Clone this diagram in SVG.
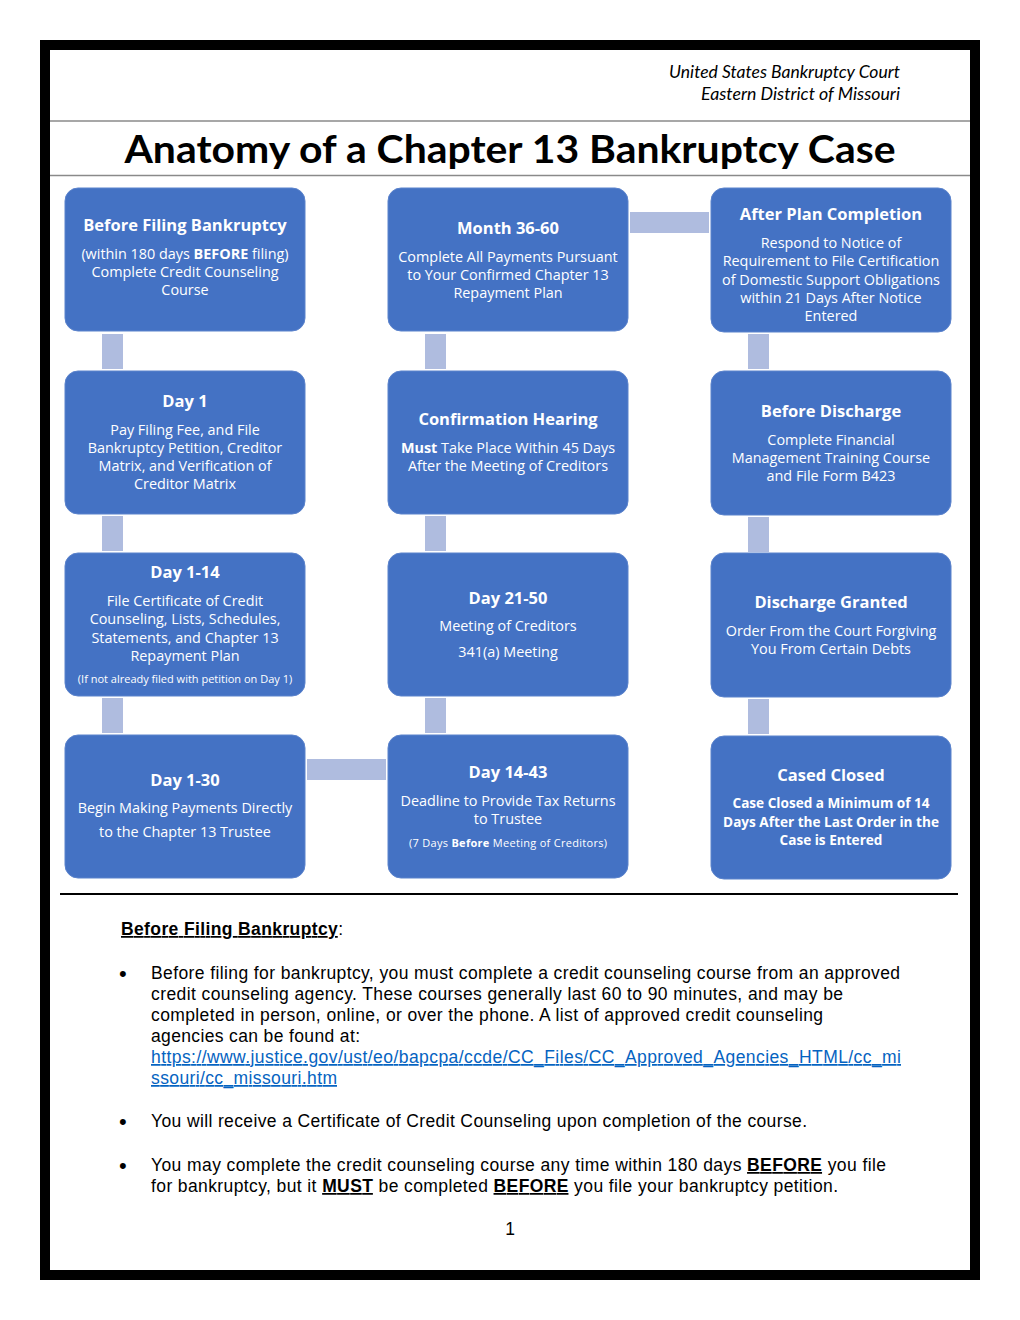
<svg xmlns="http://www.w3.org/2000/svg" width="1020" height="1320" viewBox="0 0 1020 1320">
<style>
.box{fill:#4472C4;stroke:#5B83CC;stroke-width:1}
.con{fill:#AFBCDF}
.t{font-family:"Open Sans","Noto Sans",sans-serif;font-weight:700;font-size:16.5px;fill:#fff;text-anchor:middle}
.b{font-family:"Open Sans","Noto Sans",sans-serif;font-size:14.4px;fill:#fff;text-anchor:middle}
.s{font-family:"Open Sans","Noto Sans",sans-serif;font-size:11px;fill:#fff;text-anchor:middle}
.bb{font-family:"Open Sans","Noto Sans",sans-serif;font-weight:700;font-size:13.6px;fill:#fff;text-anchor:middle}
.p{font-family:"Liberation Sans",Arial,sans-serif;font-size:17.5px;fill:#000}
.bul{font-family:"Liberation Sans",Arial,sans-serif;font-size:22px;fill:#000}
.u{text-decoration:underline;font-weight:700}
.lnk{fill:#0563C1;text-decoration:underline}
</style>
<rect width="1020" height="1320" fill="#fff"/>
<g id="frame">
<rect x="40" y="40" width="940" height="10" fill="#000"/>
<rect x="40" y="1270" width="940" height="10" fill="#000"/>
<rect x="40" y="40" width="10" height="1240" fill="#000"/>
<rect x="970" y="40" width="10" height="1240" fill="#000"/>
<line x1="50" y1="121" x2="970" y2="121" stroke="#8a8a8a" stroke-width="1.5"/>
<line x1="50" y1="175.5" x2="970" y2="175.5" stroke="#8a8a8a" stroke-width="1.5"/>
<line x1="60" y1="894" x2="958" y2="894" stroke="#000" stroke-width="2"/>
</g>
<g id="header" font-family="Lato,'Open Sans',sans-serif" font-style="italic" font-size="16.5px" text-anchor="end">
<text x="900" y="78" textLength="231" lengthAdjust="spacingAndGlyphs">United States Bankruptcy Court</text>
<text x="900" y="100" textLength="199" lengthAdjust="spacingAndGlyphs">Eastern District of Missouri</text>
</g>
<text id="title" x="510" y="163" text-anchor="middle" font-family="Lato,'Open Sans',sans-serif" font-weight="700" font-size="39px" textLength="771" lengthAdjust="spacingAndGlyphs">Anatomy of a Chapter 13 Bankruptcy Case</text>
<g id="connectors">
<rect class="con" x="102" y="334" width="21" height="35"/>
<rect class="con" x="102" y="516" width="21" height="35"/>
<rect class="con" x="102" y="698" width="21" height="35"/>
<rect class="con" x="425" y="334" width="21" height="35"/>
<rect class="con" x="425" y="516" width="21" height="35"/>
<rect class="con" x="425" y="698" width="21" height="35"/>
<rect class="con" x="748" y="334" width="21" height="35"/>
<rect class="con" x="748" y="517" width="21" height="35"/>
<rect class="con" x="748" y="699" width="21" height="35"/>
<rect class="con" x="630" y="212" width="79" height="21"/>
<rect class="con" x="307" y="759" width="79" height="21"/>
</g>
<g id="n1">
<rect class="box" x="65" y="188" width="240" height="143" rx="13"/>
<text class="t" x="185" y="231">Before Filing Bankruptcy</text>
<text class="b" x="185" y="259">(within 180 days <tspan font-weight="700">BEFORE</tspan> filing)</text>
<text class="b" x="185" y="277">Complete Credit Counseling</text>
<text class="b" x="185" y="295">Course</text>
</g>
<g id="n2">
<rect class="box" x="65" y="371" width="240" height="143" rx="13"/>
<text class="t" x="185" y="407">Day 1</text>
<text class="b" x="185" y="435">Pay Filing Fee, and File</text>
<text class="b" x="185" y="453">Bankruptcy Petition, Creditor</text>
<text class="b" x="185" y="471">Matrix, and Verification of</text>
<text class="b" x="185" y="489">Creditor Matrix</text>
</g>
<g id="n3">
<rect class="box" x="65" y="553" width="240" height="143" rx="13"/>
<text class="t" x="185" y="578">Day 1-14</text>
<text class="b" x="185" y="606">File Certificate of Credit</text>
<text class="b" x="185" y="624">Counseling, Lists, Schedules,</text>
<text class="b" x="185" y="642.5">Statements, and Chapter 13</text>
<text class="b" x="185" y="660.5">Repayment Plan</text>
<text class="s" x="185" y="683">(If not already filed with petition on Day 1)</text>
</g>
<g id="n4">
<rect class="box" x="65" y="735" width="240" height="143" rx="13"/>
<text class="t" x="185" y="786">Day 1-30</text>
<text class="b" x="185" y="813">Begin Making Payments Directly</text>
<text class="b" x="185" y="837">to the Chapter 13 Trustee</text>
</g>
<g id="n5">
<rect class="box" x="388" y="735" width="240" height="143" rx="13"/>
<text class="t" x="508" y="778">Day 14-43</text>
<text class="b" x="508" y="806">Deadline to Provide Tax Returns</text>
<text class="b" x="508" y="824">to Trustee</text>
<text class="s" x="508" y="847" textLength="198">(7 Days <tspan font-weight="700">Before</tspan> Meeting of Creditors)</text>
</g>
<g id="n6">
<rect class="box" x="388" y="553" width="240" height="143" rx="13"/>
<text class="t" x="508" y="604">Day 21-50</text>
<text class="b" x="508" y="631">Meeting of Creditors</text>
<text class="b" x="508" y="657">341(a) Meeting</text>
</g>
<g id="n7">
<rect class="box" x="388" y="371" width="240" height="143" rx="13"/>
<text class="t" x="508" y="425">Confirmation Hearing</text>
<text class="b" x="508" y="453"><tspan font-weight="700">Must</tspan> Take Place Within 45 Days</text>
<text class="b" x="508" y="471">After the Meeting of Creditors</text>
</g>
<g id="n8">
<rect class="box" x="388" y="188" width="240" height="143" rx="13"/>
<text class="t" x="508" y="234">Month 36-60</text>
<text class="b" x="508" y="262">Complete All Payments Pursuant</text>
<text class="b" x="508" y="280">to Your Confirmed Chapter 13</text>
<text class="b" x="508" y="298">Repayment Plan</text>
</g>
<g id="n9">
<rect class="box" x="711" y="188" width="240" height="144" rx="13"/>
<text class="t" x="831" y="220">After Plan Completion</text>
<text class="b" x="831" y="248">Respond to Notice of</text>
<text class="b" x="831" y="266">Requirement to File Certification</text>
<text class="b" x="831" y="284.5">of Domestic Support Obligations</text>
<text class="b" x="831" y="303">within 21 Days After Notice</text>
<text class="b" x="831" y="321">Entered</text>
</g>
<g id="n10">
<rect class="box" x="711" y="371" width="240" height="144" rx="13"/>
<text class="t" x="831" y="417">Before Discharge</text>
<text class="b" x="831" y="445">Complete Financial</text>
<text class="b" x="831" y="463">Management Training Course</text>
<text class="b" x="831" y="481">and File Form B423</text>
</g>
<g id="n11">
<rect class="box" x="711" y="553" width="240" height="144" rx="13"/>
<text class="t" x="831" y="608">Discharge Granted</text>
<text class="b" x="831" y="636">Order From the Court Forgiving</text>
<text class="b" x="831" y="654">You From Certain Debts</text>
</g>
<g id="n12">
<rect class="box" x="711" y="736" width="240" height="143" rx="13"/>
<text class="t" x="831" y="781">Cased Closed</text>
<text class="bb" x="831" y="808">Case Closed a Minimum of 14</text>
<text class="bb" x="831" y="826.5">Days After the Last Order in the</text>
<text class="bb" x="831" y="845">Case is Entered</text>
</g>
<g id="body">
<text class="p" x="121" y="935" textLength="222"><tspan class="u">Before Filing Bankruptcy</tspan>:</text>
<text class="bul" x="119" y="981">•</text>
<text class="p" x="151" y="979" textLength="749">Before filing for bankruptcy, you must complete a credit counseling course from an approved</text>
<text class="p" x="151" y="1000" textLength="692">credit counseling agency. These courses generally last 60 to 90 minutes, and may be</text>
<text class="p" x="151" y="1021" textLength="672">completed in person, online, or over the phone. A list of approved credit counseling</text>
<text class="p" x="151" y="1042" textLength="209">agencies can be found at:</text>
<text class="p lnk" x="151" y="1063" textLength="750">https://www.justice.gov/ust/eo/bapcpa/ccde/CC_Files/CC_Approved_Agencies_HTML/cc_mi</text>
<text class="p lnk" x="151" y="1084" textLength="186">ssouri/cc_missouri.htm</text>
<text class="bul" x="119" y="1129">•</text>
<text class="p" x="151" y="1127" textLength="656">You will receive a Certificate of Credit Counseling upon completion of the course.</text>
<text class="bul" x="119" y="1173">•</text>
<text class="p" x="151" y="1171" textLength="735">You may complete the credit counseling course any time within 180 days <tspan class="u">BEFORE</tspan> you file</text>
<text class="p" x="151" y="1192" textLength="687">for bankruptcy, but it <tspan class="u">MUST</tspan> be completed <tspan class="u">BEFORE</tspan> you file your bankruptcy petition.</text>
<text class="p" x="510" y="1235" text-anchor="middle">1</text>
</g>
</svg>
